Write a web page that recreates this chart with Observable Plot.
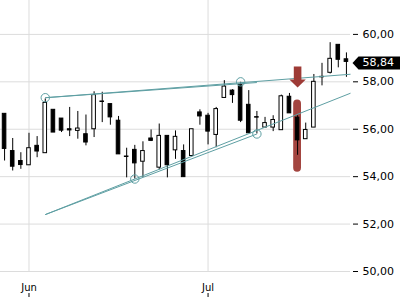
<!DOCTYPE html>
<html><head><meta charset="utf-8">
<script src="https://cdn.jsdelivr.net/npm/d3@7"></script>
<script src="https://cdn.jsdelivr.net/npm/@observablehq/plot@0.6"></script>
<style>body{margin:0;background:#fff} svg{display:block}</style>
</head><body><div id="chart"></div>
<script>
const dates = ["2015-05-27","2015-05-28","2015-05-29",
  "2015-06-01","2015-06-02","2015-06-03","2015-06-04","2015-06-05","2015-06-08","2015-06-09","2015-06-10","2015-06-11","2015-06-12",
  "2015-06-15","2015-06-16","2015-06-17","2015-06-18","2015-06-19","2015-06-22","2015-06-23","2015-06-24","2015-06-25","2015-06-26","2015-06-29","2015-06-30",
  "2015-07-01","2015-07-02","2015-07-06","2015-07-07","2015-07-08","2015-07-09","2015-07-10","2015-07-13","2015-07-14","2015-07-15","2015-07-16","2015-07-17",
  "2015-07-20","2015-07-21","2015-07-22","2015-07-23","2015-07-24","2015-07-27"];
const open  = [56.65,55.08,54.66,54.48,55.30,54.99,56.82,56.45,56.00,55.93,55.79,56.00,57.17,57.06,56.36,54.85,55.13,54.63,55.61,54.38,55.72,55.11,55.08,54.87,56.71,56.57,55.76,57.32,57.63,57.88,57.03,56.51,56.07,56.07,55.96,57.37,56.49,55.58,56.07,58.21,58.38,59.56,58.95];
const high  = [56.65,55.61,55.01,55.83,55.69,57.28,56.82,56.45,56.92,56.75,56.60,57.58,57.56,57.06,56.54,55.20,55.32,55.47,55.97,56.22,55.72,55.93,55.34,56.00,56.82,56.67,56.92,58.05,57.67,57.98,57.63,56.75,56.50,56.57,57.44,57.51,56.57,56.26,58.31,58.78,59.65,59.56,59.22];
const low   = [54.66,54.24,54.31,54.48,54.80,54.99,55.86,55.86,55.69,55.58,55.30,55.65,56.28,56.17,54.94,53.95,53.90,53.97,55.48,54.28,53.95,54.73,53.98,54.87,56.17,55.34,55.22,57.32,57.09,56.28,55.83,55.80,56.07,55.90,55.96,56.67,54.90,55.58,56.07,57.83,58.33,58.59,58.19];
const close = [55.17,54.42,54.49,55.20,55.06,57.11,55.86,55.94,55.95,56.03,55.44,57.44,57.15,56.50,54.94,54.83,54.56,55.08,55.51,55.72,54.48,55.68,53.98,56.00,56.54,55.90,56.85,57.80,57.44,56.36,55.83,56.49,56.26,56.39,57.39,56.67,55.53,55.97,58.00,58.19,58.97,58.93,58.84];
const yTicks = [50, 52, 54, 56, 58, 60];
const lastPrice = 58.84;
// trend line anchors (candle index, price)
const anchorIdx = [5, 29, 16, 31];
const anchorVal = [57.33, 58.00, 53.90, 55.80];
// trend lines: start index/price, end index/price
const lineI1 = [5, 5, 5, 5];
const lineV1 = [57.33, 57.33, 52.40, 52.40];
const lineI2 = [31, 42.5, 31, 42.5];
const lineV2 = [57.97, 58.32, 55.80, 57.52];
// signal highlight
const highlightIdx = [36], highlightLow = [54.19], highlightHigh = [57.23];
const signalIdx = [36], signalVal = [58.2];

const parse = d3.utcParse("%Y-%m-%d");
const candles = dates.map((d, i) => ({i, date: parse(d), o: open[i], h: high[i], l: low[i], c: close[i]}));
const monthStarts = candles.filter((d, i) => i > 0 && d.date.getUTCMonth() !== candles[i - 1].date.getUTCMonth());
const xTicks = monthStarts.map(d => d.i);
const monthFmt = d3.utcFormat("%b");
const tickLabel = new Map(monthStarts.map(d => [d.i, monthFmt(d.date)]));
const locale = d3.formatLocale({decimal: ",", thousands: ".", grouping: [3], currency: ["", "€"]});
const fmt = locale.format(".2f");

const anchors = anchorIdx.map((i, k) => ({i, v: anchorVal[k]}));
const lines = lineI1.map((i1, k) => ({i1, v1: lineV1[k], i2: lineI2[k], v2: lineV2[k]}));
const highlights = highlightIdx.map((i, k) => ({i, lo: highlightLow[k], hi: highlightHigh[k]}));
const signals = signalIdx.map((i, k) => ({i, v: signalVal[k]}));

const arrowSymbol = {draw(ctx) {
  ctx.moveTo(-3.8, -10.5); ctx.lineTo(3.8, -10.5); ctx.lineTo(3.8, 2.5); ctx.lineTo(8.2, 2.5);
  ctx.lineTo(0, 10.5); ctx.lineTo(-8.2, 2.5); ctx.lineTo(-3.8, 2.5); ctx.closePath();
}};
const labelSymbol = {draw(ctx) {
  ctx.moveTo(2, 0); ctx.lineTo(8, -6.5); ctx.lineTo(52, -6.5); ctx.lineTo(52, 6.5); ctx.lineTo(8, 6.5); ctx.closePath();
}};

const teal = "#5e9fa3";
const red = "#9e3b36";
const xMax = candles.length - 0.5;

const chart = Plot.plot({
  width: 400, height: 300,
  marginTop: 0, marginBottom: 29, marginLeft: 0, marginRight: 50,
  style: {fontFamily: "DejaVu Sans", fontSize: "11px", background: "#fff"},
  x: {type: "linear", domain: [-0.5, xMax]},
  y: {domain: [50, 61.43]},
  marks: [
    Plot.gridY({ticks: yTicks, stroke: "#dcdcdc", strokeOpacity: 1}),
    Plot.gridX({ticks: xTicks, stroke: "#dcdcdc", strokeOpacity: 1}),
    Plot.rect(highlights, {x1: d => d.i - 0.48, x2: d => d.i + 0.48, y1: "lo", y2: "hi", rx: 4, fill: red, fillOpacity: 0.95}),
    Plot.ruleX(candles, {x: "i", y1: "l", y2: "h", stroke: "black", strokeWidth: 1}),
    Plot.rect(candles.filter(d => d.c < d.o), {x1: d => d.i - 0.22, x2: d => d.i + 0.22, y1: "o", y2: "c", fill: "black", stroke: "black", strokeWidth: 1}),
    Plot.rect(candles.filter(d => d.c >= d.o), {x1: d => d.i - 0.22, x2: d => d.i + 0.22, y1: "o", y2: "c", fill: "white", stroke: "black", strokeWidth: 1}),
    Plot.link(lines, {x1: "i1", y1: "v1", x2: "i2", y2: "v2", stroke: teal, strokeWidth: 1}),
    Plot.dot(anchors, {x: "i", y: "v", r: 4.2, stroke: teal, strokeWidth: 1, fill: "none"}),
    Plot.dot(signals, {x: "i", y: "v", symbol: arrowSymbol, fill: red, stroke: "none"}),
    Plot.axisY({anchor: "right", ticks: yTicks, tickFormat: fmt, tickSize: 5, tickPadding: 5, dx: 2, fontSize: 11}),
    Plot.axisX({ticks: xTicks, tickSize: 4, dy: 22, fill: "none"}),
    Plot.axisX({ticks: xTicks, tickSize: 0, tickPadding: 12, tickFormat: i => tickLabel.get(i), fontSize: 10}),
    Plot.dot([lastPrice], {x: () => xMax, y: d => d, dy: 1, symbol: labelSymbol, fill: "black", stroke: "none"}),
    Plot.text([lastPrice], {x: () => xMax, y: d => d, dy: 1, dx: 12, text: d => fmt(d), textAnchor: "start", fill: "white", fontSize: 11})
  ]
});
document.getElementById("chart").appendChild(chart);
</script>
</body></html>
